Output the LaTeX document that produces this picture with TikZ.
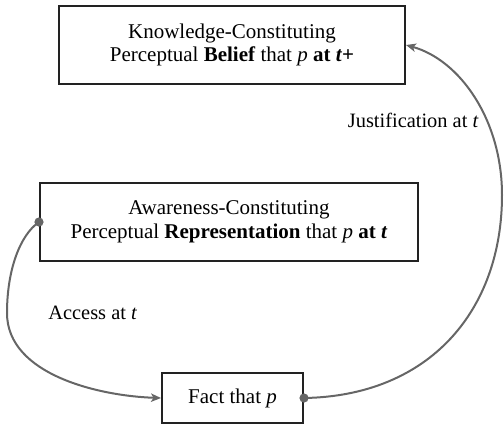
\documentclass[tikz,border=0pt]{standalone}
\usepackage{fontspec}
\setmainfont{Liberation Serif}
\usetikzlibrary{arrows.meta}
\definecolor{conncol}{HTML}{666666}
\definecolor{boxcol}{HTML}{222222}
\begin{document}
\begin{tikzpicture}[x=0.5pt,y=-0.5pt,
  stagebox/.style={draw=boxcol,line width=1pt,inner sep=0pt,align=center,
    font=\fontsize{10.5}{11.8}\selectfont},
  conn/.style={draw=conncol,line width=1pt},
  tipped/.style={-{Stealth[length=5pt,width=4.2pt,inset=1.3pt]}},
  lbl/.style={font=\fontsize{10.2}{12}\selectfont,inner sep=0pt},
  dotmark/.style={fill=conncol}]
\useasboundingbox (0,0) rectangle (504,425);
\node[stagebox,minimum width=173pt,minimum height=39pt] (kb) at (232,45)
  {Knowledge-Constituting\\Perceptual \textbf{Belief} that \textit{p} \textbf{at \textit{t}+}};
\node[stagebox,minimum width=189pt,minimum height=39pt] (ar) at (229,222)
  {Awareness-Constituting\\Perceptual \textbf{Representation} that \textit{p} \textbf{at \textit{t}}};
\node[stagebox,minimum width=70.5pt,minimum height=25pt] (fp) at (232.5,398)
  {Fact that \textit{p}};
\coordinate (jr) at (502,195);
\coordinate (al) at (7,313);
\draw[conn,tipped] (fp.east) .. controls (430,396) and (502,310) .. (jr)
  .. controls (502,120) and (460,60) .. (kb.east);
\draw[conn,tipped] (ar.west) .. controls (20,235) and (7,270) .. (al)
  .. controls (7,375) and (100,396) .. (fp.west);
\fill[dotmark] (fp.east) circle (2.3pt);
\fill[dotmark] (ar.west) circle (2.3pt);
\node[lbl,anchor=base east] (jl) at (479,127) {Justification at \textit{t}};
\node[lbl,anchor=base west] (acl) at (48,319) {Access at \textit{t}};
\end{tikzpicture}
\end{document}
